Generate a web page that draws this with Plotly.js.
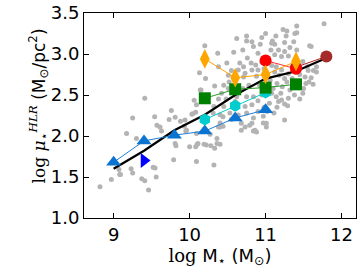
<!DOCTYPE html>
<html>
<head>
<meta charset="utf-8">
<script src="https://cdn.plot.ly/plotly-3.0.1.min.js"></script>
<style>html,body{margin:0;padding:0;background:#fff}#chart{width:363px;height:273px}</style>
</head>
<body>
<div id="chart"></div>
<script>
// gray cloud: individual galaxies (log M*, log mu*)
const grayX = [10.20,10.37,10.13,10.21,10.33,10.15,9.41,9.76,10.06,10.08,10.38,10.62,10.58,10.82,10.93,11.23,11.41,11.41,11.135,11.60,11.77,9.25,9.54,
11.28,11.385,11.27,10.75,10.84,11.09,11.12,11.25,11.37,11.41,11.07,11.17,11.25,11.32,10.90,11.12,11.21,11.30,10.49,10.66,10.81,10.87,10.71,10.64,10.73,10.82,10.90,11.14,11.21,10.71,10.88,10.51,10.55,
10.51,10.84,10.90,10.82,10.73,10.75,11.08,11.14,11.21,11.17,11.25,11.29,11.11,10.97,11.01,10.68,10.73,10.79,10.86,10.68,10.55,10.64,11.25,
10.84,10.84,10.97,11.01,10.40,10.44,10.40,
8.82,8.97,9.08,9.17,9.30,9.23,9.25,9.37,9.41,9.46,9.52,9.545,9.56,9.61,9.81,9.82,9.79,9.94,10.00,10.10,10.09,10.22,10.33,10.36,10.32,10.40,10.44,10.53,10.82,10.88,10.03,9.57,9.63,9.88,9.95,10.08,10.11,10.19,10.28,10.36,9.07,9.09,
10.14,10.09,10.04,9.96,10.31,10.40,10.38,10.27,10.09,10.32,9.73,9.81,9.93,
11.49,11.56,11.67,11.58,11.53,11.60,11.625,11.49,11.55,11.63,11.67,11.52,11.57,11.50,10.75,11.08,
11.08,11.12,11.18,11.25,11.30,11.06,11.15,11.22,11.28,11.35,11.10,11.32,11.20,11.45,11.38,11.45,11.30,11.15,11.05,10.95,10.92,10.78,10.70,10.62,10.48,10.45,10.52,10.42,10.75,10.98,11.02,10.90,10.60,10.38,10.45,10.95,11.03,10.98,10.76,10.70,10.95,11.00,11.05];
const grayY = [3.10,3.01,2.77,2.70,2.61,2.56,2.46,2.31,2.435,2.29,2.845,3.19,3.02,3.15,3.12,3.30,3.34,3.26,3.22,3.09,3.37,2.22,2.235,
3.28,3.25,3.22,3.16,3.09,3.16,3.12,3.14,3.15,3.05,3.05,3.05,3.03,3.08,3.01,2.99,2.97,2.975,2.89,2.89,2.89,2.865,2.845,2.805,2.765,2.805,2.805,2.845,2.805,2.72,2.73,2.74,2.80,
2.58,2.48,2.43,2.38,2.36,2.28,2.52,2.48,2.44,2.42,2.39,2.37,2.28,2.24,2.155,2.155,2.11,2.13,2.07,2.07,2.20,2.255,2.195,
2.22,2.06,2.16,2.11,1.90,2.12,2.16,
1.38,1.47,1.53,2.03,1.97,1.60,1.55,1.48,1.455,1.34,1.62,1.61,1.50,2.11,1.91,1.88,1.71,2.195,1.87,1.90,1.69,1.89,1.85,1.91,1.645,2.11,2.235,2.28,2.155,2.05,2.265,2.13,2.06,2.18,2.06,1.87,1.91,1.90,1.88,1.97,1.59,1.53,
2.56,2.38,2.27,2.07,2.28,2.26,2.11,2.02,2.03,2.36,2.20,2.23,2.12,
2.91,2.80,2.78,3.10,2.64,2.71,2.63,2.52,2.845,2.80,2.845,2.72,2.66,2.58,3.22,3.13,
2.86,2.78,2.74,2.70,2.76,2.68,2.64,2.60,2.66,2.70,2.58,2.56,2.52,2.75,2.50,2.45,2.46,2.35,2.40,2.50,2.62,2.62,2.58,2.48,2.45,2.62,2.66,2.52,2.48,2.35,2.30,2.30,2.42,2.45,2.36,2.90,2.95,2.82,2.95,3.05,3.20,3.25,2.89];

// mass bins
const massBins = [9.0, 9.4, 9.8, 10.2, 10.6, 11.0, 11.4, 11.8];
// whole sample running relation (black line)
const allY = [1.60, 1.82, 2.07, 2.26, 2.50, 2.70, 2.79, 2.95];
// morphological types
const eX = [11.4, 11.8];            const eY = [2.84, 2.97];           // E
const s0X = [11.0, 11.4];           const s0Y = [2.92, 2.82];          // S0
const saX = [10.2, 10.6, 11.0, 11.4]; const saY = [2.94, 2.71, 2.75, 2.91]; // Sa
const sbX = [10.2, 10.6, 11.0, 11.4]; const sbY = [2.46, 2.57, 2.59, 2.63]; // Sb
const sbcX = [10.2, 10.6, 11.0];    const sbcY = [2.20, 2.37, 2.53];   // Sbc
const scX = [9.0, 9.4, 9.8, 10.2, 10.6, 11.0]; const scY = [1.68, 1.94, 2.01, 2.06, 2.22, 2.32]; // Sc
const sdX = [9.4];                  const sdY = [1.70];                // Sd

const xTicks = [9, 10, 11, 12];
const yTicks = [1.0, 1.5, 2.0, 2.5, 3.0, 3.5];
const yTickText = ['1.0', '1.5', '2.0', '2.5', '3.0', '3.5'];

const traces = [
  {x: grayX, y: grayY, mode: 'markers', type: 'scatter', marker: {color: '#b3b3b3', size: 5}, hoverinfo: 'skip'},
  {x: massBins, y: allY, mode: 'lines', line: {color: '#000', width: 2.2}},
  {x: scX, y: scY, mode: 'lines+markers', line: {color: '#1f7fd8', width: 1}, marker: {symbol: 'triangle-up', size: 13, color: '#0a74d0'}},
  {x: sdX, y: sdY, mode: 'markers', marker: {symbol: 'triangle-right', size: 13, color: '#0000ff'}},
  {x: sbcX, y: sbcY, mode: 'lines+markers', line: {color: '#00cccc', width: 1}, marker: {symbol: 'hexagon', size: 12, color: '#00cdcd'}},
  {x: sbX, y: sbY, mode: 'lines+markers', line: {color: '#2a9a2a', width: 1}, marker: {symbol: 'square', size: 12, color: '#008000'}},
  {x: eX, y: eY, mode: 'lines+markers', line: {color: '#b22222', width: 1}, marker: {symbol: 'circle', size: 12, color: '#a52a2a'}},
  {x: s0X, y: s0Y, mode: 'lines+markers', line: {color: '#ff3030', width: 1}, marker: {symbol: 'circle', size: 12, color: '#ff0000'}},
  {x: saX, y: saY, mode: 'lines+markers', line: {color: '#ffa500', width: 1}, marker: {symbol: 'diamond-tall', size: 14, color: '#ffa500'}}
];

const font = {family: 'DejaVu Sans', size: 18, color: '#000'};
const layout = {
  width: 363, height: 273,
  margin: {l: 84, r: 7, t: 13, b: 55},
  showlegend: false,
  paper_bgcolor: '#fff', plot_bgcolor: '#fff',
  font: font,
  xaxis: {
    range: [8.61, 12.19], tickvals: xTicks, ticktext: xTicks.map(String),
    ticks: 'inside', ticklen: 5, tickcolor: '#000', showline: true, linecolor: '#000', linewidth: 1, mirror: 'ticks',
    showgrid: false, zeroline: false, tickfont: font,
    title: {text: '<span style="font-family:DejaVu Serif">log</span> M<sub>⋆</sub> (M<sub>⊙</sub>)', font: font, standoff: 4}
  },
  yaxis: {
    range: [1.0, 3.5], tickvals: yTicks, ticktext: yTickText,
    ticks: 'inside', ticklen: 5, tickcolor: '#000', showline: true, linecolor: '#000', linewidth: 1, mirror: 'ticks',
    showgrid: false, zeroline: false, tickfont: font
  },
  annotations: [{
    xref: 'paper', yref: 'paper', x: 0, y: 0.5, xanchor: 'center', yanchor: 'middle',
    xshift: -45, yshift: 9, textangle: -90, showarrow: false,
    font: {family: 'DejaVu Sans', size: 17, color: '#000'},
    text: '<span style="font-family:DejaVu Serif">log <i>μ</i><sub>⋆</sub><sup><i>HLR</i></sup></span> (M<sub>⊙</sub>/pc<sup>2</sup>)'
  }]
};
Plotly.newPlot('chart', traces, layout, {staticPlot: true});
</script>
</body>
</html>
